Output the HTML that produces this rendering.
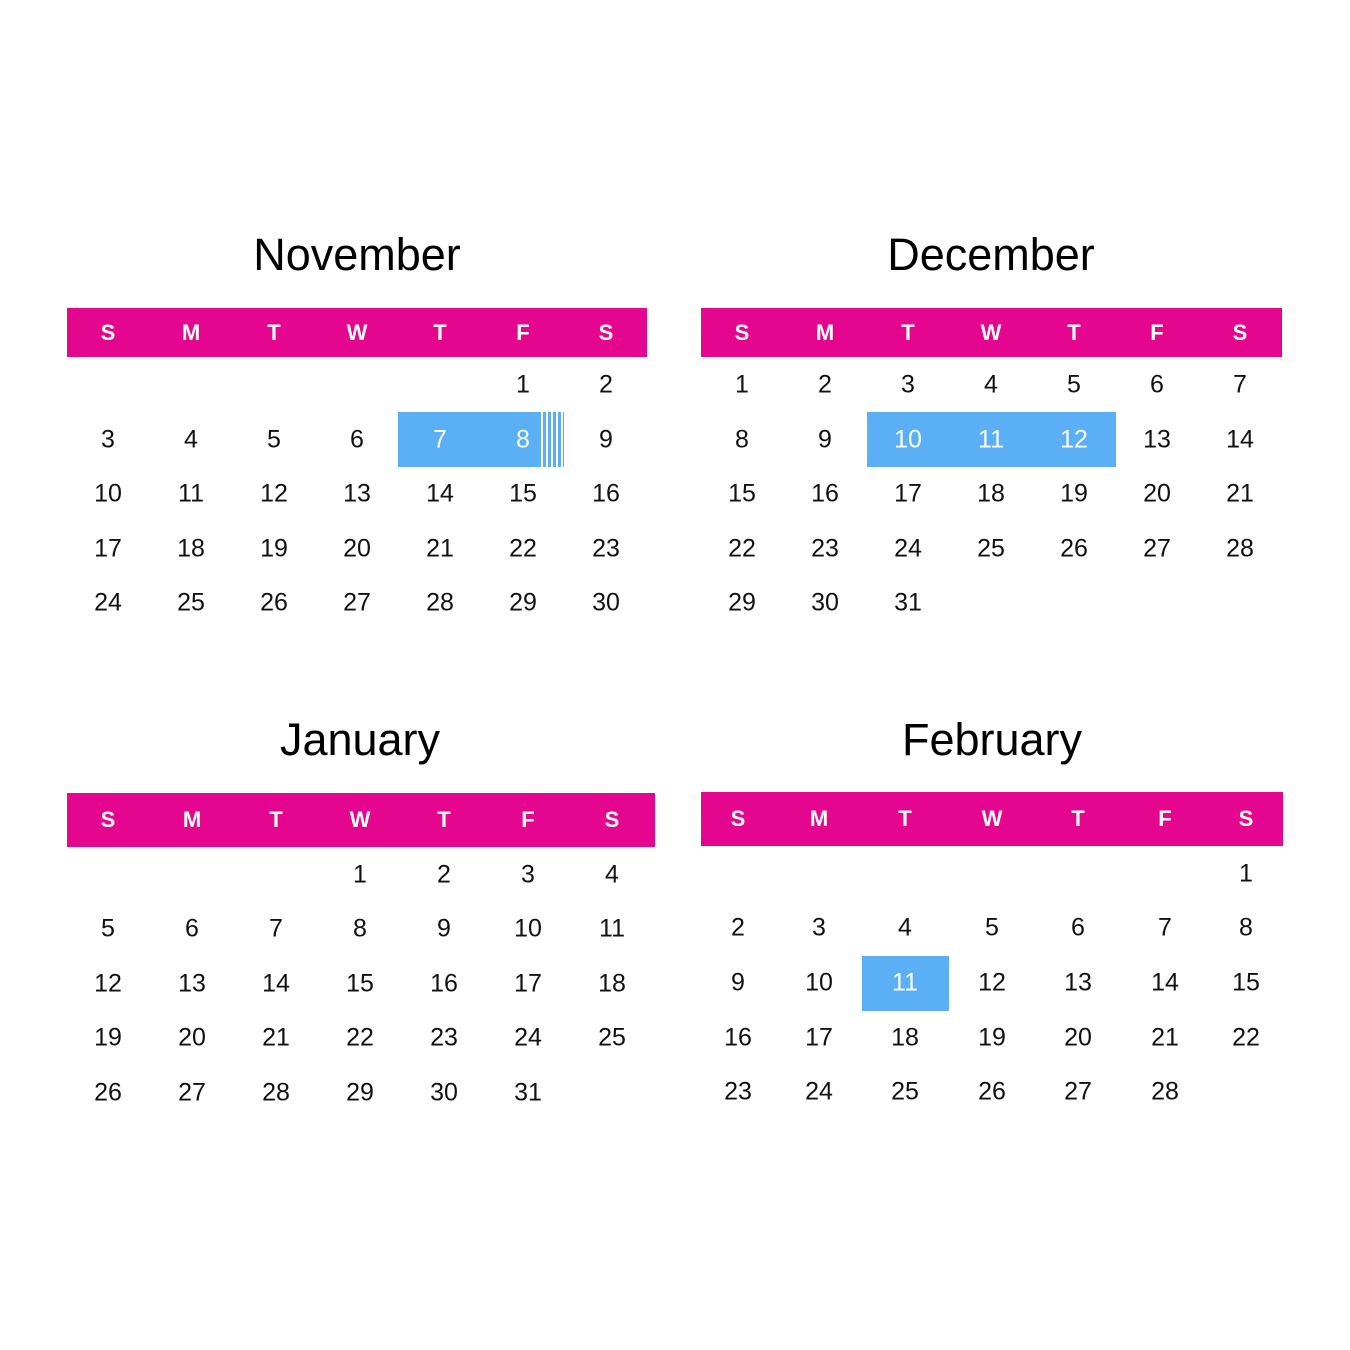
<!DOCTYPE html>
<html><head><meta charset="utf-8"><style>
body{margin:0;width:1350px;height:1350px;background:#fff;position:relative;overflow:hidden;font-family:"Liberation Sans",sans-serif}
.t{position:absolute;transform:translate(-50%,-50%);white-space:nowrap}
.title{font-size:45px;color:#000}
.bar{position:absolute;background:#e5068f}
.h{font-size:22px;font-weight:bold;color:#fff}
.d{font-size:25px;color:#111}
.hl{position:absolute;background:#5aaff5}
.w{color:#fff}
</style></head><body>
<div class="hl" style="left:398px;top:412px;width:143px;height:55px"></div>
<div style="position:absolute;left:541px;top:412px;width:23px;height:55px;background:repeating-linear-gradient(90deg,#fff 0 2px,#5aaff5 2px 5px)"></div>
<div class="hl" style="left:867px;top:412px;width:249px;height:55px"></div>
<div class="hl" style="left:862px;top:956px;width:87px;height:55px"></div>
<script>
var cals=[
{name:"November",tx:357,ty:255,bar:[67,308,580,49],cols:[108,191,274,357,440,523,606],rows:[385,440,494,549,603],start:5,days:30,hl:[7,8]},
{name:"December",tx:991,ty:255,bar:[701,308,581,49],cols:[742,825,908,991,1074,1157,1240],rows:[385,440,494,549,603],start:0,days:31,hl:[10,11,12]},
{name:"January",tx:360,ty:740,bar:[67,793,588,54],cols:[108,192,276,360,444,528,612],rows:[875,929,984,1038,1093],start:3,days:31,hl:[]},
{name:"February",tx:992,ty:740,bar:[701,792,582,54],cols:[738,819,905,992,1078,1165,1246],rows:[874,928,983,1038,1092],start:6,days:28,hl:[11]}];
var L=["S","M","T","W","T","F","S"],h="";
cals.forEach(function(c){
h+='<div class="t title" style="left:'+c.tx+'px;top:'+c.ty+'px">'+c.name+'</div>';
h+='<div class="bar" style="left:'+c.bar[0]+'px;top:'+c.bar[1]+'px;width:'+c.bar[2]+'px;height:'+c.bar[3]+'px"></div>';
var hy=c.bar[1]+c.bar[3]/2;
L.forEach(function(l,i){h+='<div class="t h" style="left:'+c.cols[i]+'px;top:'+hy+'px">'+l+'</div>';});
for(var d=1;d<=c.days;d++){var p=c.start+d-1,col=p%7,row=Math.floor(p/7);
h+='<div class="t d'+(c.hl.indexOf(d)>=0?' w':'')+'" style="left:'+c.cols[col]+'px;top:'+c.rows[row]+'px">'+d+'</div>';}
});
document.body.insertAdjacentHTML('beforeend',h);
</script>
</body></html>
